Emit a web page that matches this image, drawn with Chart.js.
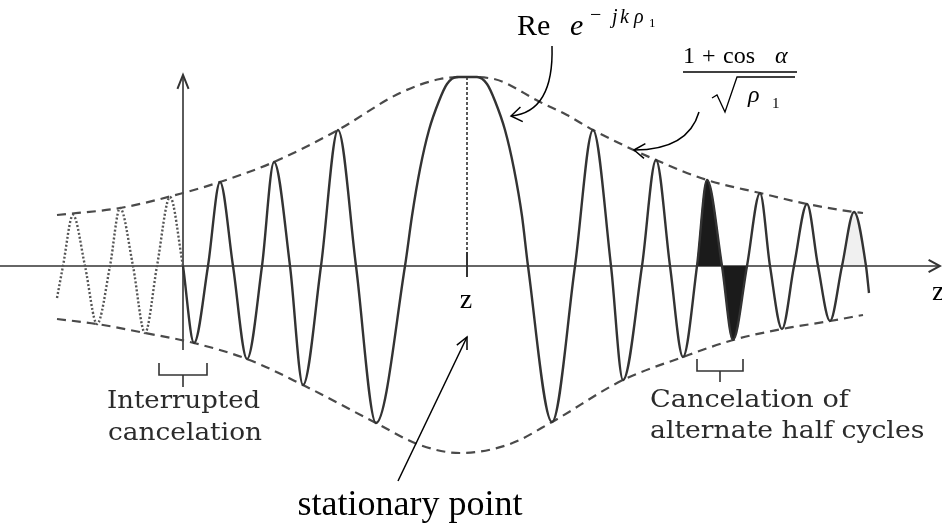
<!DOCTYPE html>
<html>
<head>
<meta charset="utf-8">
<script src="https://cdn.jsdelivr.net/npm/chart.js@4.4.1/dist/chart.umd.min.js"></script>
<style>
  html, body { margin: 0; padding: 0; background: #fff; overflow: hidden; }
  #wrap { width: 942px; height: 524px; }
</style>
</head>
<body>
<div id="wrap"><canvas id="c" width="942" height="524"></canvas></div>
<script>
// Position along z (0 = stationary point) and amplitude of Re e^{-jk rho1} weighted by the envelope.

// dotted part before the interruption
const tailZ   = [-410, -404, -394, -382, -370, -357, -347, -334, -322, -310, -297, -284];
const tailAmp = [ -32,    0,   51,    0,  -58,    0,   58,    0,  -67,    0,   69,    0];

// solid oscillation: extrema, zero crossings and the broad central lobe
const waveZ = [-284, -273, -259, -247, -234, -220, -205, -193, -177, -164,
               -146, -129, -111,  -91,  -62,  -55,  -47,  -38,  -28,  -20,
                -10,    0,   10,   20,   28,   38,   47,   55,   61,   85,
                108,  126,  144,  156,  175,  189,  203,  216,  230,  240,
                255,  266,  280,  293,  303,  315,  327,  340,  351,  363,
                375,  387,  399,  402];
const waveAmp = [   0,  -77,    0,   84,    0,  -93,    0,  104,    0, -119,
                    0,  136,    0, -157,    0,   50,   97,  136,  165,  182,
                  189,  189,  189,  182,  165,  136,   97,   50,    0, -156,
                    0,  136,    0, -114,    0,  106,    0,  -91,    0,   86,
                    0,  -74,    0,   73,    0,  -63,    0,   62,    0,  -55,
                    0,   54,    0,  -27];

// envelope (1 + cos a) / sqrt(rho1), upper and lower branches
const envTopZ   = [-410, -347, -284, -247, -193, -129, -67, -27,   0,  27,  73, 100, 126, 189, 240, 293, 340, 387, 396];
const envTopAmp = [  51,   58,   73,   84,  104,  136, 173, 187, 189, 187, 164, 151, 136, 106,  86,  73,  62,  54,  53];
const envBotZ   = [-410, -370, -322, -273, -220, -164,  -91,  -47,   -7,   43,   85,  156, 216, 266, 315, 363, 396];
const envBotAmp = [ -53,  -58,  -67,  -77,  -93, -119, -157, -179, -187, -178, -156, -114, -91, -74, -63, -55, -49];

// pair of half cycles that cancel each other
const cancelZ   = [230, 240, 255, 266, 280];
const cancelAmp = [  0,  86,   0, -74,   0];

// last half cycle, lightly shaded
const paleZ   = [375, 387, 399];
const paleAmp = [  0,  54,   0];

const pts = (zs, as) => zs.map((z, i) => ({ x: z, y: as[i] }));

function arrowHead(ctx, tx, ty, fx, fy, len, ang) {
  const a = Math.atan2(fy - ty, fx - tx);
  ctx.beginPath();
  ctx.moveTo(tx + len * Math.cos(a + ang), ty + len * Math.sin(a + ang));
  ctx.lineTo(tx, ty);
  ctx.lineTo(tx + len * Math.cos(a - ang), ty + len * Math.sin(a - ang));
  ctx.stroke();
}

function wideText(ctx, text, x, y, sx) {
  ctx.save();
  ctx.translate(x, y);
  ctx.scale(sx, 1);
  ctx.fillText(text, 0, 0);
  ctx.restore();
}

const annotations = {
  id: 'annotations',
  beforeDatasetsDraw(chart) {
    const ctx = chart.ctx;
    const X = v => chart.scales.x.getPixelForValue(v);
    const Y = v => chart.scales.y.getPixelForValue(v);
    ctx.save();
    ctx.strokeStyle = '#333';
    ctx.lineWidth = 1.6;
    // z axis
    ctx.beginPath();
    ctx.moveTo(X(-467), Y(0));
    ctx.lineTo(X(473), Y(0));
    ctx.stroke();
    ctx.lineWidth = 2;
    arrowHead(ctx, X(473), Y(0), X(400), Y(0), 13, 0.5);
    // vertical axis
    ctx.lineWidth = 1.6;
    ctx.beginPath();
    ctx.moveTo(X(-284), Y(-84));
    ctx.lineTo(X(-284), Y(191));
    ctx.stroke();
    ctx.lineWidth = 2;
    arrowHead(ctx, X(-284), Y(191), X(-284), Y(100), 15, 0.38);
    // tick at the stationary point
    ctx.lineWidth = 2;
    ctx.beginPath();
    ctx.moveTo(X(0), Y(14));
    ctx.lineTo(X(0), Y(-11));
    ctx.stroke();
    // dotted drop from the crest
    ctx.strokeStyle = '#000';
    ctx.lineWidth = 1.3;
    ctx.setLineDash([3, 2]);
    ctx.beginPath();
    ctx.moveTo(X(0), Y(189));
    ctx.lineTo(X(0), Y(14));
    ctx.stroke();
    ctx.restore();
  },
  afterDatasetsDraw(chart) {
    const ctx = chart.ctx;
    ctx.save();
    ctx.fillStyle = '#000';
    ctx.strokeStyle = '#000';
    ctx.textBaseline = 'alphabetic';
    ctx.textAlign = 'left';
    const serif = '"Liberation Serif", "Times New Roman", serif';

    // axis labels
    ctx.font = '28px ' + serif;
    ctx.textAlign = 'center';
    ctx.fillText('z', 466, 308);
    ctx.textAlign = 'left';
    ctx.fillText('z', 932, 300);

    // Re e^{-jk rho1}
    ctx.font = '30px ' + serif;
    ctx.fillText('Re', 517, 35);
    ctx.font = 'italic 30px ' + serif;
    ctx.fillText('e', 570, 35);
    ctx.font = '20px ' + serif;
    ctx.fillText('\u2212', 590, 21);
    ctx.font = 'italic 20px ' + serif;
    ctx.fillText('j', 612, 23);
    ctx.fillText('k', 620, 23);
    ctx.fillText('\u03C1', 634, 23);
    ctx.font = '13px ' + serif;
    ctx.fillText('1', 649, 27);

    ctx.lineWidth = 1.5;
    ctx.beginPath();
    ctx.moveTo(552, 46);
    ctx.quadraticCurveTo(554, 112, 511, 116);
    ctx.stroke();
    arrowHead(ctx, 511, 116, 530, 113, 13, 0.6);

    // (1 + cos a) / sqrt(rho1)
    ctx.font = '24px ' + serif;
    ctx.fillText('1', 683, 63);
    ctx.fillText('+', 702, 63);
    ctx.fillText('cos', 723, 63);
    ctx.font = 'italic 24px ' + serif;
    ctx.fillText('\u03B1', 775, 63);
    ctx.lineWidth = 1.3;
    ctx.beginPath();
    ctx.moveTo(683, 72);
    ctx.lineTo(797, 72);
    ctx.stroke();
    ctx.beginPath();
    ctx.moveTo(712, 98);
    ctx.lineTo(717, 95);
    ctx.lineTo(725, 112);
    ctx.lineTo(737, 77);
    ctx.lineTo(795, 77);
    ctx.stroke();
    ctx.font = 'italic 24px ' + serif;
    ctx.fillText('\u03C1', 748, 102);
    ctx.font = '15px ' + serif;
    ctx.fillText('1', 772, 108);

    ctx.lineWidth = 1.5;
    ctx.beginPath();
    ctx.moveTo(699, 112);
    ctx.quadraticCurveTo(688, 150, 634, 150);
    ctx.stroke();
    arrowHead(ctx, 634, 150, 655, 152, 13, 0.6);

    // stationary point
    ctx.beginPath();
    ctx.moveTo(398, 481);
    ctx.lineTo(467, 337);
    ctx.stroke();
    arrowHead(ctx, 467, 337, 440, 393, 13, 0.45);
    ctx.font = '36px ' + serif;
    ctx.textAlign = 'center';
    ctx.fillText('stationary point', 410, 515);

    // brackets and captions
    ctx.strokeStyle = '#333';
    ctx.lineWidth = 1.6;
    ctx.beginPath();
    ctx.moveTo(159, 363); ctx.lineTo(159, 375); ctx.lineTo(207, 375); ctx.lineTo(207, 363);
    ctx.moveTo(183, 375); ctx.lineTo(183, 387);
    ctx.moveTo(697, 359); ctx.lineTo(697, 371); ctx.lineTo(743, 371); ctx.lineTo(743, 359);
    ctx.moveTo(720, 371); ctx.lineTo(720, 382);
    ctx.stroke();

    ctx.fillStyle = '#2b2b2b';
    ctx.textAlign = 'left';
    ctx.font = '24px "DejaVu Serif", serif';
    wideText(ctx, 'Interrupted', 107, 408, 1.08);
    wideText(ctx, 'cancelation', 108, 440, 1.1);
    wideText(ctx, 'Cancelation of', 650, 407, 1.13);
    wideText(ctx, 'alternate half cycles', 650, 438, 1.11);
    ctx.restore();
  }
};

new Chart(document.getElementById('c'), {
  type: 'line',
  data: {
    datasets: [
      {
        data: pts(waveZ, waveAmp),
        borderColor: '#333', borderWidth: 2.4, fill: false,
        cubicInterpolationMode: 'monotone', order: 0
      },
      {
        data: pts(tailZ, tailAmp),
        borderColor: '#555', borderWidth: 2.4, borderDash: [2, 2], fill: false,
        cubicInterpolationMode: 'monotone', order: 1
      },
      {
        data: pts(cancelZ, cancelAmp),
        borderColor: '#1b1b1b', borderWidth: 1, backgroundColor: '#1b1b1b', fill: 'origin',
        cubicInterpolationMode: 'monotone', order: 2
      },
      {
        data: pts(paleZ, paleAmp),
        borderColor: 'rgba(0,0,0,0)', borderWidth: 0, backgroundColor: 'rgba(0,0,0,0.06)', fill: 'origin',
        cubicInterpolationMode: 'monotone', order: 2
      },
      {
        data: pts(envTopZ, envTopAmp),
        borderColor: '#4a4a4a', borderWidth: 2.2, borderDash: [9, 6], fill: false,
        cubicInterpolationMode: 'monotone', order: 3
      },
      {
        data: pts(envBotZ, envBotAmp),
        borderColor: '#4a4a4a', borderWidth: 2.2, borderDash: [9, 6], fill: false,
        cubicInterpolationMode: 'monotone', order: 3
      }
    ]
  },
  options: {
    responsive: false,
    animation: false,
    devicePixelRatio: 1,
    layout: { padding: 0 },
    elements: { point: { radius: 0, hoverRadius: 0 } },
    plugins: { legend: { display: false }, tooltip: { enabled: false } },
    events: [],
    scales: {
      x: { type: 'linear', min: -467, max: 475, display: false },
      y: { type: 'linear', min: -258, max: 266, display: false }
    }
  },
  plugins: [annotations]
});
</script>
</body>
</html>
